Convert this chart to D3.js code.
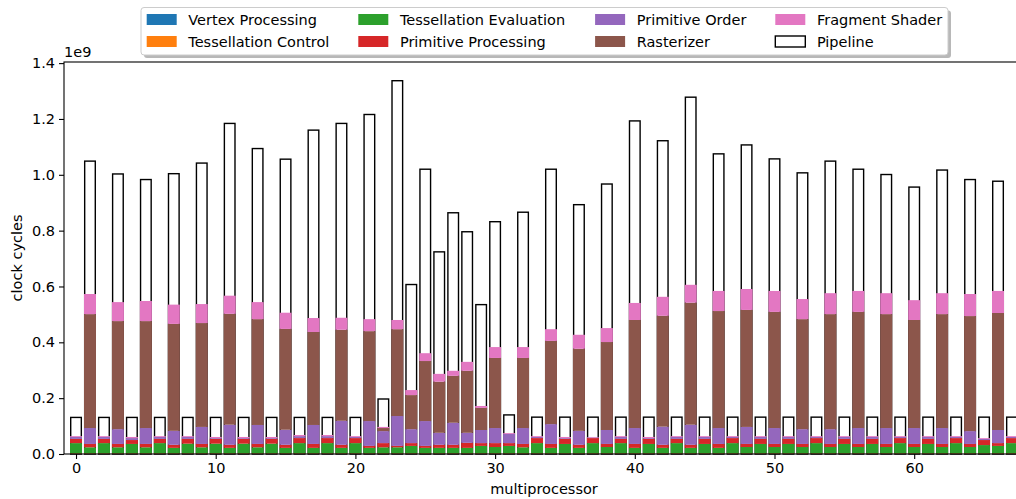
<!DOCTYPE html>
<html>
<head>
<meta charset="utf-8">
<script src="https://cdn.jsdelivr.net/npm/d3@7"></script>
<style>
  body { margin: 0; background: #fff; }
  svg { display: block; font-family: "DejaVu Sans", sans-serif; }
</style>
</head>
<body>
<div id="chart"></div>
<script>
// values in units of 1e9 clock cycles, one entry per multiprocessor (0..67)
var vertexProcessing = [
  .001,.001,.001,.001,.001,.001,.001,.001,.001,.001,
  .001,.001,.001,.001,.001,.001,.001,.001,.001,.001,
  .001,.001,.001,.001,.001,.001,.001,.001,.001,.001,
  .001,.001,.001,.001,.001,.001,.001,.001,.001,.001,
  .001,.001,.001,.001,.001,.001,.001,.001,.001,.001,
  .001,.001,.001,.001,.001,.001,.001,.001,.001,.001,
  .001,.001,.001,.001,.001,.001,.001,.001]
var tessControl = [
  .002,.002,.002,.002,.002,.002,.002,.002,.002,.002,
  .002,.002,.002,.002,.002,.002,.002,.002,.002,.002,
  .002,.002,.002,.002,.002,.002,.002,.002,.002,.002,
  .002,.002,.002,.002,.002,.002,.002,.002,.002,.002,
  .002,.002,.002,.002,.002,.002,.002,.002,.002,.002,
  .002,.002,.002,.002,.002,.002,.002,.002,.002,.002,
  .002,.002,.002,.002,.002,.002,.002,.002]
var tessEval = [
  .036,.021,.036,.021,.033,.021,.036,.019,.034,.021,
  .034,.019,.034,.021,.034,.019,.036,.019,.036,.019,
  .036,.019,.021,.021,.026,.019,.019,.019,.019,.026,
  .022,.026,.021,.036,.019,.033,.019,.036,.022,.036,
  .019,.033,.019,.036,.019,.033,.019,.036,.022,.033,
  .022,.033,.022,.036,.022,.033,.022,.033,.022,.036,
  .022,.033,.022,.036,.022,.029,.026,.036]
var primProcessing = [
  .015,.012,.015,.012,.014,.012,.015,.011,.017,.012,
  .017,.011,.017,.012,.017,.011,.018,.014,.018,.011,
  .018,.007,.015,.005,.010,.007,.011,.011,.018,.010,
  .014,.010,.012,.018,.014,.018,.011,.018,.011,.015,
  .014,.018,.011,.015,.011,.018,.014,.018,.011,.018,
  .011,.018,.011,.018,.011,.018,.011,.018,.011,.018,
  .011,.018,.011,.018,.011,.018,.010,.018]
var primOrder = [
  .007,.057,.007,.053,.007,.057,.007,.050,.007,.061,
  .003,.072,.003,.068,.003,.054,.007,.068,.007,.086,
  .004,.089,.043,.107,.050,.089,.043,.079,.036,.047,
  .054,.033,.057,.004,.071,.003,.050,.002,.050,.007,
  .057,.003,.065,.007,.072,.007,.057,.004,.061,.007,
  .057,.007,.053,.004,.053,.007,.057,.007,.057,.004,
  .057,.007,.057,.004,.046,.004,.047,.004]
var rasterizer = [
  0,.408,0,.387,0,.383,0,.383,0,.372,
  0,.397,0,.379,0,.361,0,.333,0,.326,
  0,.322,.011,.311,.122,.215,.183,.168,.222,.079,
  .251,0,.251,0,.298,0,.294,0,.315,0,
  .387,0,.397,0,.437,0,.419,0,.419,0,
  .416,0,.394,0,.412,0,.416,0,.408,0,
  .387,0,.408,0,.412,0,.419,0]
var fragmentShader = [
  .003,.072,.003,.068,.004,.072,.003,.069,.003,.068,
  .004,.065,.004,.061,.004,.058,.004,.050,.004,.043,
  .003,.043,.004,.033,.018,.028,.028,.018,.032,.007,
  .039,.003,.039,.003,.042,.004,.050,.002,.050,.003,
  .061,.004,.068,.003,.064,.003,.072,.003,.075,.003,
  .075,.003,.072,.003,.075,.003,.075,.003,.075,.003,
  .071,.003,.075,.003,.079,.003,.079,.003]
var pipeline = [
  .131,1.049,.131,1.003,.131,.983,.131,1.004,.131,1.042,
  .131,1.184,.131,1.094,.131,1.056,.131,1.160,.131,1.184,
  .131,1.216,.197,1.337,.607,1.020,.724,.864,.796,.535,
  .832,.140,.866,.132,1.020,.132,.893,.132,.967,.132,
  1.193,.132,1.122,.132,1.278,.132,1.075,.132,1.107,.132,
  1.057,.132,1.007,.132,1.049,.132,1.020,.132,1.001,.132,
  .956,.132,1.017,.132,.983,.132,.977,.132]

var seriesNames = ["Vertex Processing", "Tessellation Control", "Tessellation Evaluation",
  "Primitive Processing", "Primitive Order", "Rasterizer", "Fragment Shader"]
var seriesColors = ["#1f77b4", "#ff7f0e", "#2ca02c", "#d62728", "#9467bd", "#8c564b", "#e377c2"]
var seriesValues = [vertexProcessing, tessControl, tessEval, primProcessing, primOrder, rasterizer, fragmentShader]
var yTicks = [0, 0.2, 0.4, 0.6, 0.8, 1.0, 1.2, 1.4]
var xTicks = [0, 10, 20, 30, 40, 50, 60]

var W = 1016, H = 499
var margin = { top: 62, left: 64, bottom: 45 }
var plotRight = 1024
var FS = "14.5px"

var svg = d3.select("#chart").append("svg")
  .attr("width", W).attr("height", H)

var x = d3.scaleLinear().domain([-0.86, 67.86]).range([margin.left, plotRight])
var y = d3.scaleLinear().domain([0, 1.404]).range([H - margin.bottom, margin.top])
var barW = 0.86

var plot = svg.append("g")

// pipeline outline bars, drawn first so the stacks sit on top
var idx = d3.range(pipeline.length)
plot.selectAll(".pipe").data(idx).enter().append("rect")
  .attr("class", "pipe")
  .attr("x", function(i) { return x(i - barW / 2) + 0.7 })
  .attr("width", function(i) { return x(i + barW / 2) - x(i - barW / 2) - 1.4 })
  .attr("y", function(i) { return y(pipeline[i]) })
  .attr("height", function(i) { return y(0) - y(pipeline[i]) })
  .attr("fill", "none")
  .attr("stroke", "#000")
  .attr("stroke-width", 1.4)

// stacked stages
var rows = idx.map(function(i) {
  var r = { i: i }
  seriesNames.forEach(function(n, k) { r[n] = seriesValues[k][i] })
  return r
})
var stack = d3.stack().keys(seriesNames)(rows)
stack.forEach(function(layer, k) {
  plot.append("g").selectAll("rect").data(layer).enter().append("rect")
    .attr("x", function(d) { return x(d.data.i - barW / 2) })
    .attr("width", x(barW) - x(0))
    .attr("y", function(d) { return y(d[1]) })
    .attr("height", function(d) { return Math.max(0, y(d[0]) - y(d[1])) })
    .attr("fill", seriesColors[k])
})

// axes
var axisY = svg.append("g")
  .attr("transform", "translate(" + margin.left + ",0)")
  .call(d3.axisLeft(y).tickValues(yTicks).tickFormat(d3.format(".1f")).tickSize(5).tickPadding(4))
var axisX = svg.append("g")
  .attr("transform", "translate(0," + (H - margin.bottom) + ")")
  .call(d3.axisBottom(x).tickValues(xTicks).tickFormat(d3.format("d")).tickSize(5).tickPadding(4))
;[axisX, axisY].forEach(function(a) {
  a.select(".domain").remove()
  a.selectAll("line").attr("stroke", "#000").attr("stroke-width", 1.1)
  a.selectAll("text").attr("font-size", FS).attr("fill", "#000")
    .attr("font-family", "DejaVu Sans, sans-serif")
})

// frame
svg.append("rect")
  .attr("x", margin.left).attr("y", margin.top)
  .attr("width", plotRight - margin.left).attr("height", H - margin.bottom - margin.top)
  .attr("fill", "none").attr("stroke", "#000").attr("stroke-width", 1.1)

svg.append("text").attr("x", margin.left).attr("y", 57)
  .attr("font-size", FS).text("1e9")

svg.append("text")
  .attr("transform", "translate(22," + ((margin.top + H - margin.bottom) / 2) + ") rotate(-90)")
  .attr("text-anchor", "middle").attr("font-size", FS)
  .text("clock cycles")

svg.append("text")
  .attr("x", (margin.left + plotRight) / 2).attr("y", 494)
  .attr("text-anchor", "middle").attr("font-size", FS)
  .text("multiprocessor")

// legend
var legend = svg.append("g")
var lx = 141, ly = 7.5, lw = 807, lh = 47.5
legend.append("rect").attr("x", lx + 3).attr("y", ly + 3).attr("width", lw).attr("height", lh)
  .attr("rx", 3).attr("fill", "#888").attr("opacity", 0.6)
legend.append("rect").attr("x", lx).attr("y", ly).attr("width", lw).attr("height", lh)
  .attr("rx", 3).attr("fill", "#fff").attr("stroke", "#ccc").attr("stroke-width", 1)

var legendItems = seriesNames.concat(["Pipeline"])
var colX = [146.7, 358.3, 595.1, 775.3]
var rowY = [19.5, 41.5]
legendItems.forEach(function(name, k) {
  var c = Math.floor(k / 2), r = k % 2
  var px = colX[c], py = rowY[r]
  var patch = legend.append("rect")
    .attr("x", px).attr("y", py - 5.5).attr("width", 30).attr("height", 11)
  if (name == "Pipeline") {
    patch.attr("fill", "#fff").attr("stroke", "#000").attr("stroke-width", 1.4)
  } else {
    patch.attr("fill", seriesColors[k])
  }
  legend.append("text")
    .attr("x", px + 41.6).attr("y", py).attr("dy", "0.36em")
    .attr("font-size", FS).text(name)
})
</script>
</body>
</html>
